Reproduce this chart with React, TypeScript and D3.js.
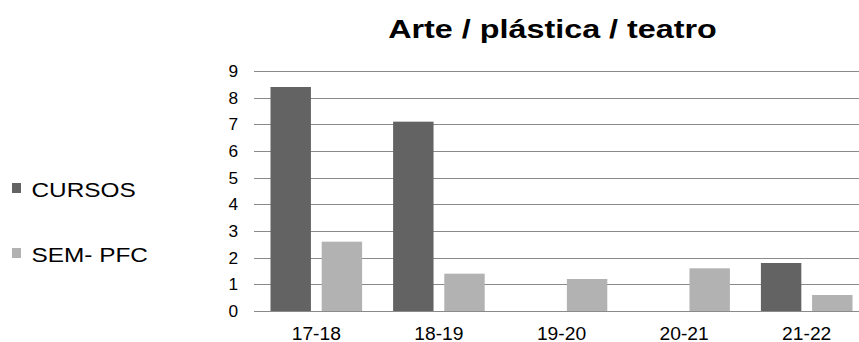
import React from "react";
import * as d3 from "d3";

const categories = ["17-18", "18-19", "19-20", "20-21", "21-22"];
const seriesNames = ["CURSOS", "SEM- PFC"];
const cursos = [8.4, 7.1, 0, 0, 1.8];
const semPfc = [2.6, 1.4, 1.2, 1.6, 0.6];
const yTicks = [0, 1, 2, 3, 4, 5, 6, 7, 8, 9];
const colors = ["#636363", "#b2b2b2"];

const W = 859;
const H = 342;
const plotLeft = 254;
const plotRight = 868;
const plotTop = 71;
const plotBottom = 311;

export default function App() {
  const x = d3.scaleBand<string>().domain(categories).range([plotLeft + 1, plotRight]).paddingInner(0).paddingOuter(0);
  const inner = d3.scaleBand<string>().domain(seriesNames).range([15.5, x.bandwidth() - 15.5]).paddingInner(0.21);
  const y = d3.scaleLinear().domain([0, 9]).range([plotBottom, plotTop]);
  const series = [cursos, semPfc];
  return (
    <svg width={W} height={H} style={{ position: "absolute", left: 0, top: 0 }} fontFamily="'Liberation Sans', Arial, sans-serif">
      <rect width={W} height={H} fill="#fff" />
      <g transform="translate(552.5, 37.5) scale(1.22, 1)">
        <text x={0} y={0} textAnchor="middle" fontSize={26.5} fontWeight="bold" fill="#000">Arte / plástica / teatro</text>
      </g>
      {yTicks.map((t) => (
        <g key={t}>
          <line x1={plotLeft} x2={W} y1={Math.round(y(t)) + 0.5} y2={Math.round(y(t)) + 0.5} stroke="#8a8a8a" strokeWidth={1.2} />
          <g transform={`translate(238, ${y(t) + 6}) scale(1.08, 1)`}>
            <text x={0} y={0} textAnchor="end" fontSize={16} fill="#000">{t}</text>
          </g>
        </g>
      ))}
      {series.map((vals, si) =>
        categories.map((c, ci) =>
          vals[ci] > 0 ? (
            <rect key={si + "-" + c} x={(x(c) as number) + (inner(seriesNames[si]) as number)} width={inner.bandwidth()} y={y(vals[ci])} height={y(0) - y(vals[ci])} fill={colors[si]} />
          ) : null
        )
      )}
      {categories.map((c) => (
        <g key={c} transform={`translate(${(x(c) as number) + x.bandwidth() / 2}, 339.5) scale(1.07, 1)`}>
          <text x={0} y={0} textAnchor="middle" fontSize={18} fill="#000">{c}</text>
        </g>
      ))}
      {seriesNames.map((s, i) => (
        <g key={s} transform={`translate(12, ${183 + i * 65})`}>
          <rect width={9} height={10} fill={colors[i]} />
          <g transform="translate(19.5, 14) scale(1.16, 1)">
            <text x={0} y={0} fontSize={21} fill="#000">{s}</text>
          </g>
        </g>
      ))}
    </svg>
  );
}
